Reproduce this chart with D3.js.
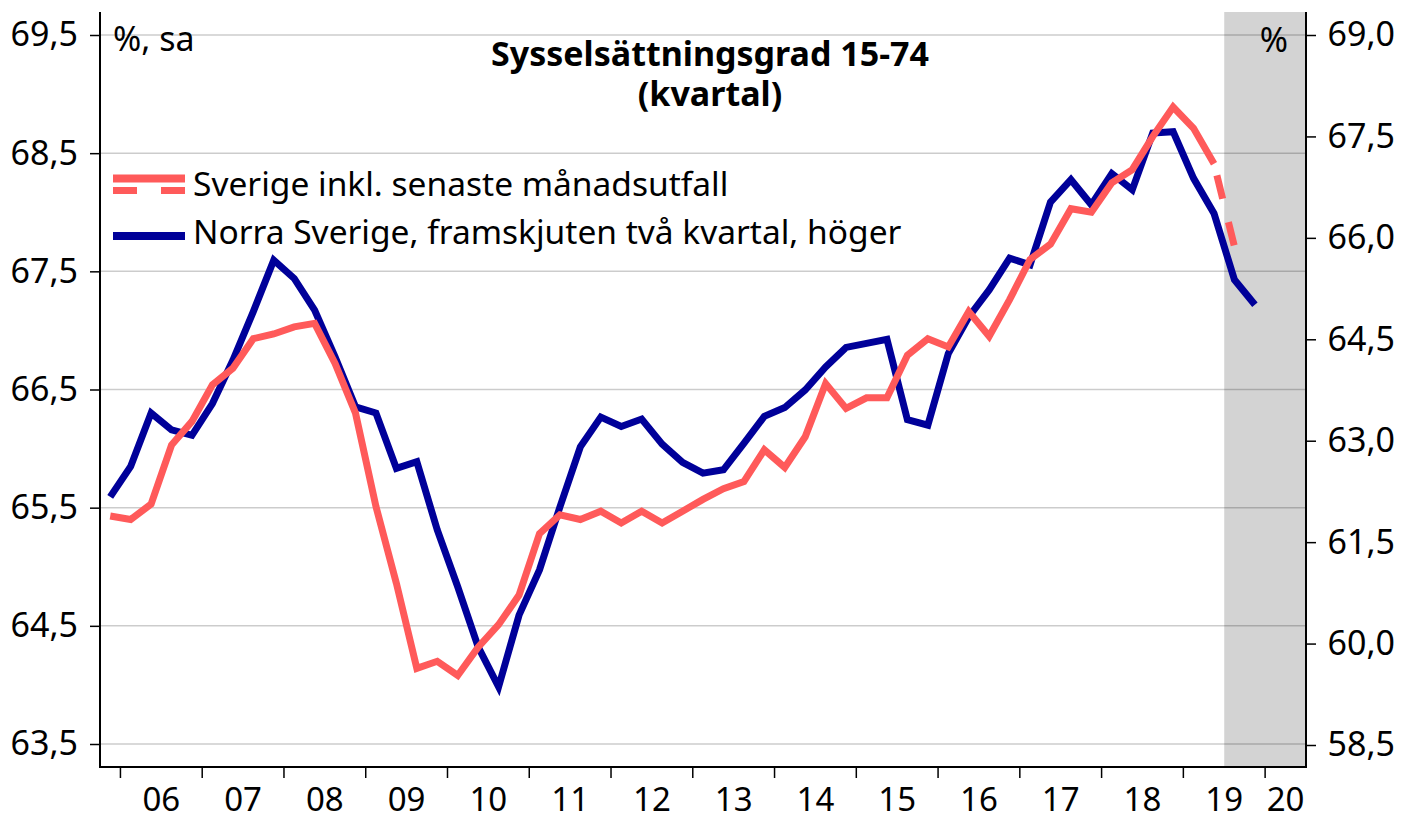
<!DOCTYPE html>
<html>
<head>
<meta charset="utf-8">
<script src="https://cdn.jsdelivr.net/npm/d3@7"></script>
<style>
  html, body { margin: 0; padding: 0; background: #fff; }
  svg { display: block; }
  text { font-family: "Noto Sans", "Open Sans", sans-serif; fill: #000; }
</style>
</head>
<body>
<svg id="chart" width="1402" height="820"></svg>
<script>
// ---- Data ----
const quarters = [
  "2005K4",
  "2006K1","2006K2","2006K3","2006K4",
  "2007K1","2007K2","2007K3","2007K4",
  "2008K1","2008K2","2008K3","2008K4",
  "2009K1","2009K2","2009K3","2009K4",
  "2010K1","2010K2","2010K3","2010K4",
  "2011K1","2011K2","2011K3","2011K4",
  "2012K1","2012K2","2012K3","2012K4",
  "2013K1","2013K2","2013K3","2013K4",
  "2014K1","2014K2","2014K3","2014K4",
  "2015K1","2015K2","2015K3","2015K4",
  "2016K1","2016K2","2016K3","2016K4",
  "2017K1","2017K2","2017K3","2017K4",
  "2018K1","2018K2","2018K3","2018K4",
  "2019K1","2019K2","2019K3","2019K4",
  "2020K1","2020K2"
];
const yearLabels = ["06","07","08","09","10","11","12","13","14","15","16","17","18","19","20"];
const yearStarts = ["2006K1","2007K1","2008K1","2009K1","2010K1","2011K1","2012K1","2013K1","2014K1","2015K1","2016K1","2017K1","2018K1","2019K1","2020K1"];

// Sverige (left axis), 2005K4 .. 2019K3 ; last segment dashed (incl. latest monthly outcome)
const sverige = [
  65.43,
  65.40,65.53,66.03,66.23,
  66.54,66.68,66.93,66.97,
  67.03,67.06,66.72,66.30,
  65.51,64.86,64.14,64.20,
  64.08,64.32,64.51,64.76,
  65.28,65.44,65.40,65.47,
  65.37,65.47,65.37,65.47,
  65.57,65.66,65.72,65.99,
  65.84,66.10,66.55,66.34,
  66.43,66.43,66.79,66.93,
  66.86,67.16,66.95,67.26,
  67.60,67.73,68.03,68.00,
  68.25,68.36,68.64,68.89,
  68.71,68.41,67.71
];
const sverigeDashedFrom = "2019K2";

// Norra Sverige, shifted forward two quarters (right axis), 2005K4 .. 2019K4
const norra = [
  62.17,
  62.62,63.41,63.16,63.08,
  63.55,64.19,64.91,65.67,
  65.40,64.93,64.24,63.50,
  63.41,62.59,62.69,61.68,
  60.84,59.95,59.36,60.42,
  61.09,62.02,62.91,63.35,
  63.21,63.32,62.95,62.68,
  62.52,62.57,62.96,63.36,
  63.49,63.75,64.09,64.38,
  64.44,64.50,63.31,63.23,
  64.29,64.83,65.23,65.70,
  65.60,66.53,66.86,66.49,
  66.95,66.71,67.55,67.57,
  66.88,66.36,65.38,65.01
];

const leftTicks = [63.5, 64.5, 65.5, 66.5, 67.5, 68.5, 69.5];
const rightTicks = [58.5, 60.0, 61.5, 63.0, 64.5, 66.0, 67.5, 69.0];
const shadeFrom = "2019K3";

const titleLines = ["Sysselsättningsgrad 15-74", "(kvartal)"];
const legendLabels = ["Sverige inkl. senaste månadsutfall", "Norra Sverige, framskjuten två kvartal, höger"];
const leftUnit = "%, sa";
const rightUnit = "%";

// ---- Layout ----
const plot = { left: 100, right: 1306, top: 12, bottom: 767 };
const RED = "#ff5a5a";
const BLUE = "#000099";
const FS = "34px";

const svg = d3.select("#chart");

const x = d3.scaleBand().domain(quarters).range([plot.left, plot.right]).padding(0);
const xc = q => x(q) + x.bandwidth() / 2;
const yL = d3.scaleLinear().domain([63.5, 69.5]).range([744, 35]);
const yR = d3.scaleLinear().domain([58.5, 69.0]).range([745, 35]);
const fmt = v => d3.format(".1f")(v).replace(".", ",");

// shaded forecast area
svg.append("rect")
  .attr("x", x(shadeFrom)).attr("y", plot.top)
  .attr("width", plot.right - x(shadeFrom)).attr("height", plot.bottom - plot.top)
  .attr("fill", "#d3d3d3");

// gridlines
svg.append("g").selectAll("line").data(leftTicks).join("line")
  .attr("x1", plot.left).attr("x2", plot.right)
  .attr("y1", d => yL(d)).attr("y2", d => yL(d))
  .attr("stroke", "rgba(0,0,0,0.2)").attr("stroke-width", 1.5);

// left axis
const gL = svg.append("g").attr("transform", `translate(${plot.left},0)`)
  .call(d3.axisLeft(yL).tickValues(leftTicks).tickFormat(fmt).tickSize(10).tickPadding(12));
gL.select(".domain").remove();
gL.append("line").attr("x1", 0).attr("x2", 0).attr("y1", plot.top).attr("y2", plot.bottom + 1)
  .attr("stroke", "#000").attr("stroke-width", 2);
gL.selectAll(".tick line").attr("stroke", "#000").attr("stroke-width", 1.5);
gL.selectAll(".tick text").style("font-size", FS).style("font-family", '"Noto Sans", sans-serif').attr("fill", "#000");

// right axis
const gR = svg.append("g").attr("transform", `translate(${plot.right},0)`)
  .call(d3.axisRight(yR).tickValues(rightTicks).tickFormat(fmt).tickSize(10).tickPadding(12));
gR.select(".domain").remove();
gR.append("line").attr("x1", 0).attr("x2", 0).attr("y1", plot.top).attr("y2", plot.bottom + 1)
  .attr("stroke", "#000").attr("stroke-width", 2);
gR.selectAll(".tick line").attr("stroke", "#000").attr("stroke-width", 1.5);
gR.selectAll(".tick text")
  .style("font-size", FS).style("font-family", '"Noto Sans", sans-serif').attr("fill", "#000")
  .attr("text-anchor", "end").attr("x", 89);

// bottom axis
const gB = svg.append("g");
gB.append("line").attr("x1", plot.left - 1).attr("x2", plot.right + 1)
  .attr("y1", plot.bottom).attr("y2", plot.bottom).attr("stroke", "#000").attr("stroke-width", 2);
gB.selectAll("line.tk").data(yearStarts).join("line").attr("class", "tk")
  .attr("x1", d => x(d)).attr("x2", d => x(d))
  .attr("y1", plot.bottom).attr("y2", plot.bottom + 11)
  .attr("stroke", "#000").attr("stroke-width", 1.5);
gB.selectAll("text").data(yearLabels).join("text")
  .attr("x", (d, i) => {
    const s = x(yearStarts[i]);
    const e = i + 1 < yearStarts.length ? x(yearStarts[i + 1]) : plot.right;
    return (s + e) / 2;
  })
  .attr("y", 811)
  .attr("text-anchor", "middle")
  .style("font-size", "33px")
  .text(d => d);

// lines
const lineL = d3.line().x(d => xc(d.q)).y(d => yL(d.v));
const lineR = d3.line().x(d => xc(d.q)).y(d => yR(d.v));
const sData = sverige.map((v, i) => ({ q: quarters[i], v }));
const nData = norra.map((v, i) => ({ q: quarters[i], v }));
const cut = quarters.indexOf(sverigeDashedFrom);

svg.append("path").datum(nData).attr("d", lineR)
  .attr("fill", "none").attr("stroke", BLUE).attr("stroke-width", 7).attr("stroke-linejoin", "miter");
svg.append("path").datum(sData.slice(0, cut + 1)).attr("d", lineL)
  .attr("fill", "none").attr("stroke", RED).attr("stroke-width", 7).attr("stroke-linejoin", "miter");
svg.append("path").datum(sData.slice(cut)).attr("d", lineL)
  .attr("fill", "none").attr("stroke", RED).attr("stroke-width", 7)
  .attr("stroke-dasharray", "24 24").attr("stroke-dashoffset", 36);

// title
svg.append("text").attr("x", 710).attr("y", 0).attr("text-anchor", "middle")
  .style("font-size", FS).style("font-weight", "bold")
  .selectAll("tspan").data(titleLines).join("tspan")
  .attr("x", 710).attr("y", (d, i) => 66 + i * 40).text(d => d);

// units
svg.append("text").attr("x", 113).attr("y", 51).style("font-size", FS).text(leftUnit);
svg.append("text").attr("x", 1288).attr("y", 52).attr("text-anchor", "end").style("font-size", FS).text(rightUnit);

// legend
const lg = svg.append("g");
lg.append("line").attr("x1", 113).attr("x2", 185).attr("y1", 178.5).attr("y2", 178.5)
  .attr("stroke", RED).attr("stroke-width", 8);
lg.append("line").attr("x1", 113).attr("x2", 185).attr("y1", 190.5).attr("y2", 190.5)
  .attr("stroke", RED).attr("stroke-width", 7).attr("stroke-dasharray", "24 24");
lg.append("line").attr("x1", 113).attr("x2", 185).attr("y1", 236).attr("y2", 236)
  .attr("stroke", BLUE).attr("stroke-width", 8);
lg.selectAll("text").data(legendLabels).join("text")
  .attr("x", 193).attr("y", (d, i) => 196 + i * 48)
  .style("font-size", "33.5px").text(d => d);
</script>
</body>
</html>
